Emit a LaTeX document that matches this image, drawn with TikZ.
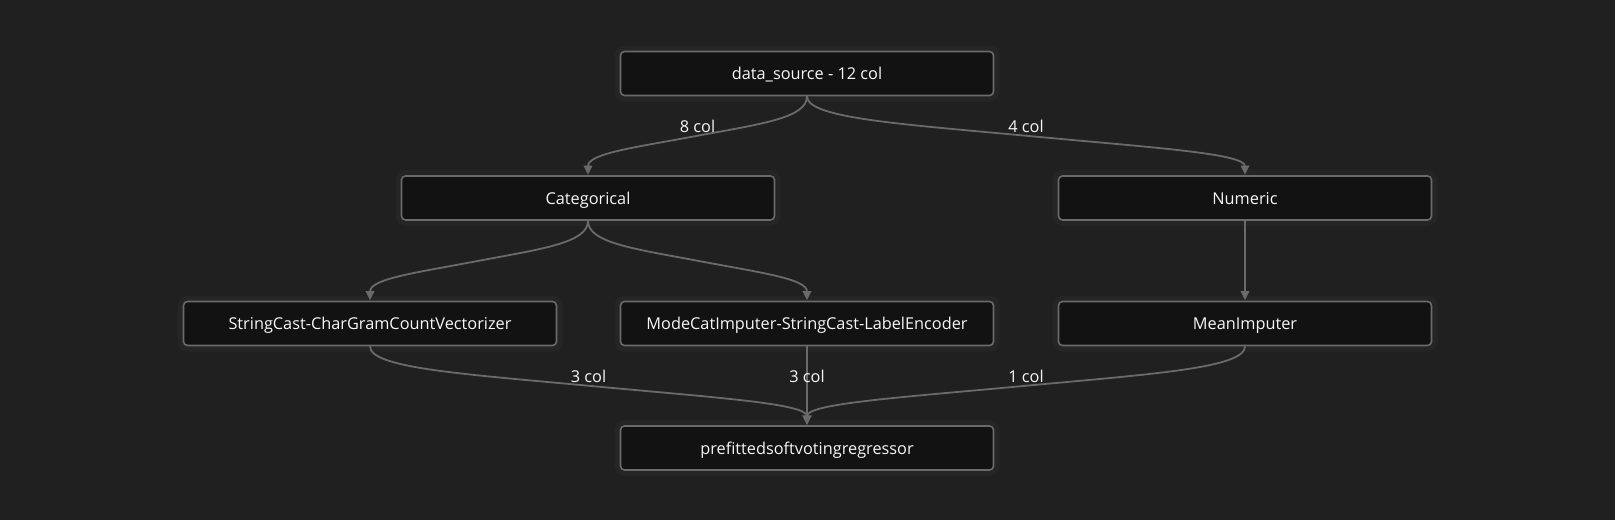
\documentclass[tikz,border=0pt]{standalone}
\usepackage{fontspec}
\setmainfont{Open Sans}
\usetikzlibrary{calc,arrows.meta}
\definecolor{bgc}{HTML}{202020}
\definecolor{haloc}{HTML}{252525}
\definecolor{boxc}{HTML}{121212}
\definecolor{linec}{HTML}{6A6A6A}
\definecolor{txtc}{HTML}{F6F6F6}
\newcommand\flowedge[2]{%
 \draw[edge] let \p1=(#1.south), \p2=(#2.north), \n1={\y1-\y2} in
 (\p1) .. controls ({\x1},{\y1-0.275*\n1}) and ({(\x1+\x2)/2+0.29*(\x1-\x2)},{(\y1+\y2)/2+0.15*\n1}) ..
 ({(\x1+\x2)/2},{(\y1+\y2)/2}) .. controls ({(\x1+\x2)/2-0.29*(\x1-\x2)},{(\y1+\y2)/2-0.15*\n1}) and ({\x2},{\y2+0.275*\n1}) .. (\p2);}
\newcommand\flowlabel[3]{%
 \path let \p1=(#1.south), \p2=(#2.north) in
 node[elabel] at ({(\x1+\x2)/2},{(\y1+\y2)/2+2}) {#3};}
\begin{document}
\begin{tikzpicture}[x=1pt,y=1pt,
  box/.style={draw=linec, line width=1.6pt, fill=boxc, rounded corners=4pt,
    minimum width=373pt, minimum height=44pt, text=txtc, font=\fontsize{16.3}{19}\selectfont,
    text height=13.5pt, text depth=1.5pt,
    preaction={draw=haloc, line width=12pt}},
  edge/.style={draw=linec, line width=1.8pt, -{Triangle[length=9pt,width=8.5pt]}, shorten >=0.5pt},
  elabel/.style={anchor=south, text=txtc, font=\fontsize{16.3}{19}\selectfont, inner sep=1pt}]
\fill[bgc] (0,0) rectangle (1615,-520);
\useasboundingbox (0,0) rectangle (1615,-520);
\node[box] (ds)  at (807,-73.5)  {data\_source - 12 col};
\node[box] (cat) at (588,-198)   {Categorical};
\node[box] (num) at (1245,-198)  {Numeric};
\node[box] (scv) at (370,-323.5) {StringCast-CharGramCountVectorizer};
\node[box] (mci) at (807,-323.5) {ModeCatImputer-StringCast-LabelEncoder};
\node[box] (mi)  at (1245,-323.5){MeanImputer};
\node[box] (pr)  at (807,-448)   {prefittedsoftvotingregressor};
\flowedge{ds}{cat}
\flowedge{ds}{num}
\flowedge{cat}{scv}
\flowedge{cat}{mci}
\flowedge{num}{mi}
\flowedge{scv}{pr}
\flowedge{mci}{pr}
\flowedge{mi}{pr}
\flowlabel{ds}{cat}{8 col}
\flowlabel{ds}{num}{4 col}
\flowlabel{scv}{pr}{3 col}
\flowlabel{mci}{pr}{3 col}
\flowlabel{mi}{pr}{1 col}
\end{tikzpicture}
\end{document}
